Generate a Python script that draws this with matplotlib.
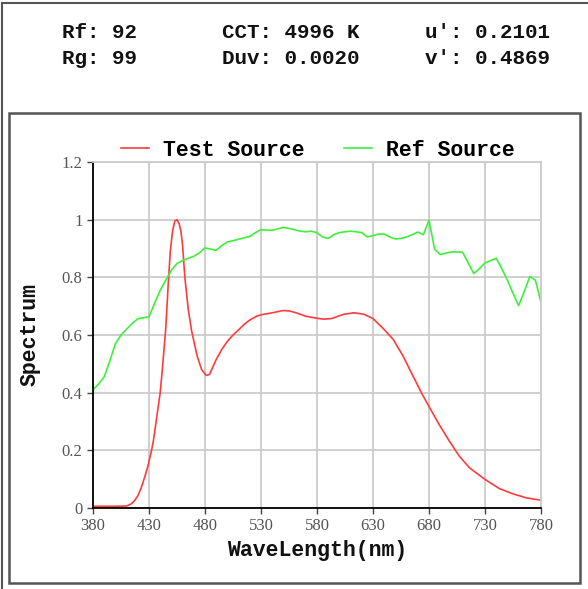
import matplotlib
matplotlib.use("Agg")
import matplotlib.pyplot as plt
from matplotlib.patches import Rectangle
from matplotlib.lines import Line2D

# ---- data ----
test_wl = [380, 390, 400, 410, 414, 417, 420, 423, 426, 429, 432, 434, 436, 438, 440, 442,
           445, 447, 449, 451, 453, 455, 457, 458.5, 460, 462, 465, 468, 473, 477, 481, 484,
           490, 495, 500, 505, 510, 515, 520, 526, 530, 540, 550, 556, 563, 570, 580, 586,
           593, 604, 613, 622, 630, 639, 648, 657, 665, 674, 680, 689, 698, 707, 716, 730,
           743, 755, 767, 780]
test_val = [0.006, 0.006, 0.006, 0.007, 0.014, 0.025, 0.042, 0.07, 0.105, 0.145, 0.195, 0.235,
            0.29, 0.345, 0.40, 0.485, 0.625, 0.765, 0.89, 0.96, 0.995, 1.0, 0.985, 0.96, 0.91,
            0.80, 0.69, 0.615, 0.527, 0.48, 0.46, 0.463, 0.515, 0.55, 0.578, 0.60, 0.618,
            0.637, 0.652, 0.665, 0.67, 0.677, 0.685, 0.683, 0.675, 0.665, 0.658, 0.655,
            0.657, 0.672, 0.677, 0.672, 0.657, 0.623, 0.585, 0.526, 0.463, 0.394, 0.352,
            0.29, 0.233, 0.18, 0.14, 0.099, 0.067, 0.049, 0.035, 0.027]

ref_wl = list(range(380, 785, 5))
ref_val = [0.41, 0.43, 0.455, 0.51, 0.57, 0.60, 0.62, 0.64, 0.656, 0.66, 0.663, 0.71, 0.755,
           0.79, 0.825, 0.848, 0.858, 0.866, 0.873, 0.885, 0.902, 0.898, 0.894, 0.91, 0.923,
           0.927, 0.932, 0.937, 0.942, 0.955, 0.965, 0.964, 0.963, 0.968, 0.973, 0.97, 0.965,
           0.96, 0.958, 0.96, 0.955, 0.94, 0.935, 0.948, 0.955, 0.958, 0.96, 0.958, 0.955,
           0.94, 0.945, 0.95, 0.95, 0.94, 0.933, 0.935, 0.94, 0.948, 0.957, 0.948, 0.998,
           0.898, 0.879, 0.884, 0.888, 0.888, 0.887, 0.85, 0.813, 0.83, 0.85, 0.858, 0.866,
           0.83, 0.79, 0.745, 0.702, 0.75, 0.803, 0.79, 0.713]

x_ticks = [380, 430, 480, 530, 580, 630, 680, 730, 780]
y_ticks = [0, 0.2, 0.4, 0.6, 0.8, 1.0, 1.2]
y_labels = ["0", "0.2", "0.4", "0.6", "0.8", "1", "1.2"]

info_text = [("Rf: 92", "Rg: 99"), ("CCT: 4996 K", "Duv: 0.0020"), ("u': 0.2101", "v': 0.4869")]

W, H = 588, 589
fig = plt.figure(figsize=(W / 100, H / 100), dpi=100)
fig.patch.set_facecolor("white")

def fx(px):
    return px / W

def fy(py):
    return 1 - py / H

mono = dict(family="Liberation Mono", weight="bold", color="#111111")

# outer frame lines
fig.add_artist(Line2D([fx(2), fx(2)], [fy(3), fy(589)], color="#555555", lw=1.5))
fig.add_artist(Line2D([fx(2), fx(588)], [fy(3), fy(3)], color="#555555", lw=1.5))
# inner box
fig.add_artist(Rectangle((fx(9), fy(583)), fx(580) - fx(9), fy(113) - fy(583),
                         fill=False, edgecolor="#555555", lw=1.8))

# info text
cols_x = [62, 222, 425]
for cx, (t1, t2) in zip(cols_x, info_text):
    fig.text(fx(cx), fy(32), t1, fontsize=15, va="center", ha="left", **mono)
    fig.text(fx(cx), fy(58), t2, fontsize=15, va="center", ha="left", **mono)

ax = fig.add_axes([fx(93), fy(508), fx(541) - fx(93), fy(162) - fy(508)])
ax.plot(test_wl, test_val, color="#ff3c3c", lw=1.2, label="Test Source")
ax.plot(ref_wl, ref_val, color="#3cf03c", lw=1.2, label="Ref Source")

ax.set_xlim(380, 780)
ax.set_ylim(0, 1.2)
ax.set_xticks(x_ticks)
ax.set_xticklabels([str(v) for v in x_ticks])
ax.set_yticks(y_ticks)
ax.set_yticklabels(y_labels)
ax.grid(True, color="#cccccc", lw=1.3)
ax.set_axisbelow(True)
for s in ["top", "right"]:
    ax.spines[s].set_color("#cccccc")
    ax.spines[s].set_linewidth(1.3)
for s in ["left", "bottom"]:
    ax.spines[s].set_color("black")
    ax.spines[s].set_linewidth(1.3)
ax.tick_params(axis="both", length=4, width=1, color="#444444", labelcolor="#555555",
               labelsize=12, direction="out")
for lab in ax.get_xticklabels() + ax.get_yticklabels():
    lab.set_family("Liberation Serif")

ax.set_xlabel("WaveLength(nm)", fontsize=15.5, labelpad=4, **mono)
ax.set_ylabel("Spectrum", fontsize=15.5, labelpad=15, **mono)

leg = ax.legend(loc="center", bbox_to_anchor=(fx(318), fy(150)),
                bbox_transform=fig.transFigure, ncol=2, frameon=False,
                prop=dict(family="Liberation Mono", weight="bold", size=15.5),
                handlelength=1.3, columnspacing=1.8, handletextpad=0.65)

fig.savefig("out.png", dpi=100)
